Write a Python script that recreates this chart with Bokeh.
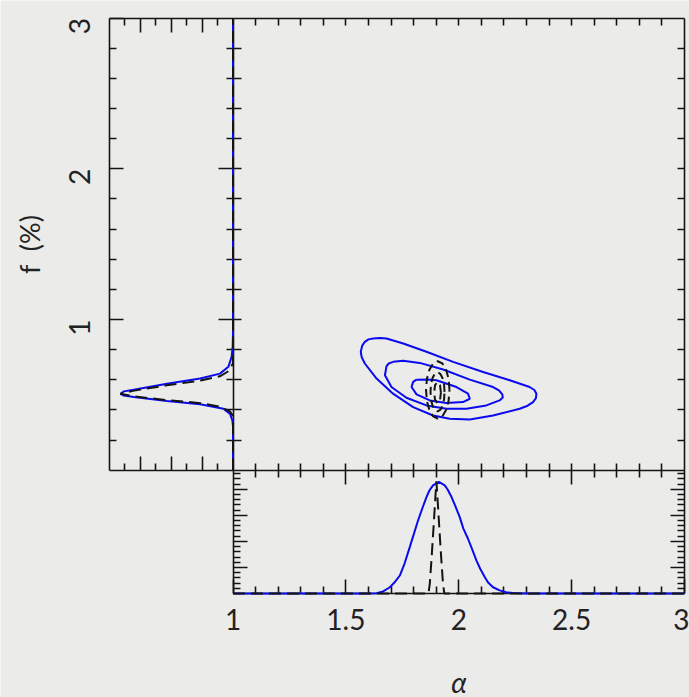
import math
from bokeh.plotting import figure
from bokeh.models import Range1d, LinearAxis, FixedTicker
from bokeh.embed import file_html
from bokeh.resources import INLINE

# ---------------- data ----------------
# tick labels
ALPHA_TICKS = [1.0, 1.5, 2.0, 2.5, 3.0]
ALPHA_TICK_LABELS = ["1", "1.5", "2", "2.5", "3"]
F_TICKS = [1.0, 2.0, 3.0]
F_TICK_LABELS = ["1", "2", "3"]

# marginal of alpha (bottom panel) - blue solid
ALPHA_MARG_BLUE = [1.00, 1.60, 1.636, 1.665, 1.695, 1.715, 1.739, 1.760, 1.783, 1.820,
                   1.840, 1.857, 1.870, 1.886, 1.912, 1.938, 1.950, 1.968, 1.985, 2.004,
                   2.020, 2.041, 2.060, 2.078, 2.095, 2.115, 2.130, 2.152, 2.181, 2.210,
                   2.240, 2.300, 3.00]
DENS_MARG_BLUE = [0.0, 0.0, 0.01, 0.08, 0.24, 0.42, 0.69, 1.15, 1.78, 2.81,
                  3.30, 3.70, 3.95, 4.15, 4.28, 4.15, 4.00, 3.70, 3.35, 2.94,
                  2.50, 2.10, 1.68, 1.27, 0.95, 0.63, 0.42, 0.24, 0.12, 0.05,
                  0.02, 0.0, 0.0]
# marginal of alpha - black dashed
ALPHA_MARG_DASH = [1.00, 1.866, 1.872, 1.880, 1.888, 1.895, 1.901, 1.907, 1.914, 1.922, 1.930, 1.936, 3.00]
DENS_MARG_DASH = [0.0, 0.0, 0.4, 1.4, 2.5, 3.5, 4.3, 3.5, 2.5, 1.4, 0.4, 0.0, 0.0]

# marginal of f (left panel) - blue solid
F_MARG_BLUE = [0.0, 0.29, 0.33, 0.374, 0.408, 0.437, 0.459, 0.486, 0.495, 0.506,
               0.523, 0.534, 0.574, 0.608, 0.641, 0.686, 0.752, 0.82, 0.91, 3.0]
FD_MARG_BLUE = [0.0, 0.0, 0.04, 0.19, 0.62, 2.13, 4.28, 6.43, 7.07, 7.29,
                7.07, 6.43, 4.28, 2.13, 0.84, 0.30, 0.09, 0.02, 0.0, 0.0]
# marginal of f - black dashed
F_MARG_DASH = [0.0, 0.36, 0.39, 0.42, 0.445, 0.465, 0.490, 0.508, 0.528, 0.563, 0.595, 0.625, 0.66, 0.71, 3.0]
FD_MARG_DASH = [0.0, 0.0, 0.2, 0.8, 2.1, 4.3, 6.4, 7.29, 6.4, 4.3, 2.1, 0.8, 0.25, 0.0, 0.0]

# joint contours (main panel) - blue solid
OUTER_ALPHA = [1.621, 1.650, 1.680, 1.754, 1.857, 1.975, 2.108, 2.226, 2.314, 2.335,
               2.344, 2.342, 2.329, 2.305, 2.270, 2.152, 2.049, 1.960, 1.886, 1.798,
               1.709, 1.636, 1.584, 1.570, 1.566, 1.572, 1.584, 1.600]
OUTER_F = [0.874, 0.878, 0.874, 0.841, 0.786, 0.719, 0.652, 0.597, 0.552, 0.532,
           0.508, 0.478, 0.452, 0.428, 0.408, 0.363, 0.337, 0.341, 0.363, 0.419,
           0.508, 0.608, 0.708, 0.750, 0.786, 0.825, 0.852, 0.868]
MID_ALPHA = [1.709, 1.754, 1.827, 1.931, 2.049, 2.152, 2.178, 2.193, 2.195, 2.181,
             2.122, 2.034, 1.945, 1.857, 1.768, 1.702, 1.673, 1.680, 1.690]
MID_F = [0.719, 0.726, 0.712, 0.668, 0.601, 0.552, 0.530, 0.503, 0.483, 0.463,
         0.430, 0.408, 0.408, 0.430, 0.481, 0.552, 0.630, 0.690, 0.708]
IN_ALPHA = [1.813, 1.860, 1.901, 1.990, 2.041, 2.049, 2.019, 1.945, 1.872, 1.813, 1.791, 1.798]
IN_F = [0.601, 0.602, 0.597, 0.552, 0.508, 0.474, 0.452, 0.446, 0.463, 0.503, 0.552, 0.586]

# joint contours - black dashed
DOUT_ALPHA = [1.959, 1.955, 1.944, 1.927, 1.907, 1.887, 1.870, 1.859,
              1.855, 1.859, 1.870, 1.887, 1.907, 1.927, 1.944, 1.955]
DOUT_F = [0.533, 0.606, 0.667, 0.709, 0.723, 0.709, 0.667, 0.606,
          0.533, 0.460, 0.399, 0.357, 0.343, 0.357, 0.399, 0.460]
DMID_ALPHA = [1.937, 1.935, 1.928, 1.918, 1.906, 1.894, 1.884, 1.877,
              1.875, 1.877, 1.884, 1.894, 1.906, 1.918, 1.928, 1.935]
DMID_F = [0.520, 0.570, 0.612, 0.640, 0.650, 0.640, 0.612, 0.570,
          0.520, 0.470, 0.428, 0.400, 0.390, 0.400, 0.428, 0.470]
DIN_ALPHA = [1.921, 1.917, 1.906, 1.895, 1.891, 1.895, 1.906, 1.917]
DIN_F = [0.515, 0.564, 0.585, 0.564, 0.515, 0.466, 0.445, 0.466]

# ---------------- panel geometry (pixels) ----------------
W, H = 689, 697
X_LEFT, X_SPLIT, X_RIGHT = 109.0, 232.5, 684.0
Y_TOP, Y_SPLIT, Y_BOTTOM = 17.6, 469.7, 593.0
ALPHA_LIM = (1.0, 3.0)
F_LIM = (0.0, 3.0)
DENS_LIM = (0.0, 4.73)
FD_LIM = (8.0, 0.0)

BG = "#ebebe9"
INK = "#141414"
BLUE = "#0a0af0"
LW = 1.6
FONT = "Lato"


def x_range_for(v0, p0, v1, p1):
    s = (v1 - v0) / (p1 - p0)
    return Range1d(start=v0 + (0 - p0) * s, end=v0 + (W - p0) * s)


def y_range_for(v0, p0, v1, p1):
    s = (v1 - v0) / (p1 - p0)
    return Range1d(start=v0 + (H - p0) * s, end=v0 + (0 - p0) * s)


xr = x_range_for(ALPHA_LIM[0], X_SPLIT, ALPHA_LIM[1], X_RIGHT)
fdr = x_range_for(FD_LIM[0], X_LEFT, FD_LIM[1], X_SPLIT)
yr = y_range_for(F_LIM[0], Y_SPLIT, F_LIM[1], Y_TOP)
dr = y_range_for(DENS_LIM[0], Y_BOTTOM, DENS_LIM[1], Y_SPLIT)

p = figure(width=W, height=H, x_range=xr, y_range=yr, output_backend="svg",
           toolbar_location=None, x_axis_type=None, y_axis_type=None, title=None,
           min_border=0, background_fill_color=BG, border_fill_color=BG,
           outline_line_color=None)
p.extra_x_ranges = {"fd": fdr}
p.extra_y_ranges = {"dens": dr}

# ---------------- glyphs ----------------
for xs, ys in [(OUTER_ALPHA, OUTER_F), (MID_ALPHA, MID_F), (IN_ALPHA, IN_F)]:
    p.line(xs + xs[:1], ys + ys[:1], line_color=BLUE, line_width=2)
for xs, ys in [(DOUT_ALPHA, DOUT_F), (DMID_ALPHA, DMID_F), (DIN_ALPHA, DIN_F)]:
    p.line(xs + xs[:1], ys + ys[:1], line_color=INK, line_width=2, line_dash="8 5")

r = p.line(ALPHA_MARG_BLUE, DENS_MARG_BLUE, y_range_name="dens", line_color=BLUE, line_width=2)
r.level = "overlay"
r = p.line(ALPHA_MARG_DASH, DENS_MARG_DASH, y_range_name="dens", line_color=INK,
           line_width=2, line_dash="12 6")
r.level = "overlay"
r = p.line(FD_MARG_BLUE, F_MARG_BLUE, x_range_name="fd", line_color=BLUE, line_width=2)
r.level = "overlay"
r = p.line(FD_MARG_DASH, F_MARG_DASH, x_range_name="fd", line_color=INK,
           line_width=2, line_dash="12 6")
r.level = "overlay"

# ---------------- axes (panel frames) ----------------
F_MINOR = [round(0.2 * i, 1) for i in range(1, 15) if i % 5 != 0]
ALPHA_MINOR = [round(1 + 0.1 * i, 1) for i in range(1, 20) if i % 5 != 0]
DENS_MINOR = [round(0.2 * i, 1) for i in range(1, 24) if i % 5 != 0]


def add_axis(side, ticks, minor, bounds, fixed, xname="default", yname="default",
             tin=0, tout=0, mtin=0, mtout=0, show_labels=False, **kw):
    ax = LinearAxis(ticker=FixedTicker(ticks=ticks, minor_ticks=minor), bounds=bounds,
                    fixed_location=fixed, x_range_name=xname, y_range_name=yname,
                    axis_line_color=INK, axis_line_width=LW,
                    major_tick_line_color=INK, major_tick_line_width=LW,
                    minor_tick_line_color=INK, minor_tick_line_width=LW,
                    major_tick_in=tin, major_tick_out=tout,
                    minor_tick_in=mtin, minor_tick_out=mtout, **kw)
    if not show_labels:
        ax.major_label_text_font_size = "0px"
        ax.major_label_text_color = None
        ax.major_label_standoff = 0
    p.add_layout(ax, side)
    return ax


# left panel: left edge with f labels
ax = add_axis("left", F_TICKS, F_MINOR, F_LIM, FD_LIM[0], xname="fd",
              tin=14, mtin=7, show_labels=True)
ax.major_label_overrides = {t: s for t, s in zip(F_TICKS, F_TICK_LABELS)}
ax.major_label_orientation = math.pi / 2
ax.major_label_text_font = FONT
ax.major_label_text_font_size = "28px"
ax.major_label_text_color = "#222222"
ax.major_label_standoff = 30
ax.axis_label = "f\u00a0\u00a0(%)"
ax.axis_label_text_font = FONT
ax.axis_label_text_font_size = "27px"
ax.axis_label_text_font_style = "normal"
ax.axis_label_text_color = "#222222"
ax.axis_label_standoff = 10

# shared edge between left panel and main panel
add_axis("left", [1.0, 2.0], F_MINOR, F_LIM, FD_LIM[1], xname="fd",
         tin=8, tout=15, mtin=8, mtout=7)
# left panel top and bottom
add_axis("above", [2, 4, 6], [1, 3, 5, 7], (0, 8), F_LIM[1], xname="fd", tin=14, mtin=7)
add_axis("below", [2, 4, 6], [1, 3, 5, 7], (0, 8), F_LIM[0], xname="fd", tin=14, mtin=7)
# main panel top and right
add_axis("above", [1.5, 2.0, 2.5], ALPHA_MINOR, ALPHA_LIM, F_LIM[1], tin=7, mtin=7)
add_axis("right", [1.0, 2.0], F_MINOR, F_LIM, ALPHA_LIM[1], tin=7, mtin=7)
# main panel bottom / bottom panel top
add_axis("below", [1.5, 2.0, 2.5], ALPHA_MINOR, ALPHA_LIM, F_LIM[0],
         tin=7, tout=14, mtin=7, mtout=7)
# bottom panel left and right
add_axis("left", [1, 2, 3, 4], DENS_MINOR, DENS_LIM, ALPHA_LIM[0], yname="dens", tin=14, mtin=7)
add_axis("right", [1, 2, 3, 4], DENS_MINOR, DENS_LIM, ALPHA_LIM[1], yname="dens", tin=14, mtin=7)
# bottom panel bottom with alpha labels
ax = add_axis("below", ALPHA_TICKS, ALPHA_MINOR, ALPHA_LIM, DENS_LIM[0], yname="dens",
              tin=14, mtin=7, show_labels=True)
ax.major_label_overrides = {t: s for t, s in zip(ALPHA_TICKS, ALPHA_TICK_LABELS)}
ax.major_label_text_font = FONT
ax.major_label_text_font_size = "28px"
ax.major_label_text_color = "#222222"
ax.major_label_standoff = 15
ax.axis_label = "α"
ax.axis_label_text_font = FONT
ax.axis_label_text_font_size = "28px"
ax.axis_label_text_font_style = "italic"
ax.axis_label_text_color = "#222222"
ax.axis_label_standoff = 32

open("out.html", "w").write(file_html(p, INLINE))
